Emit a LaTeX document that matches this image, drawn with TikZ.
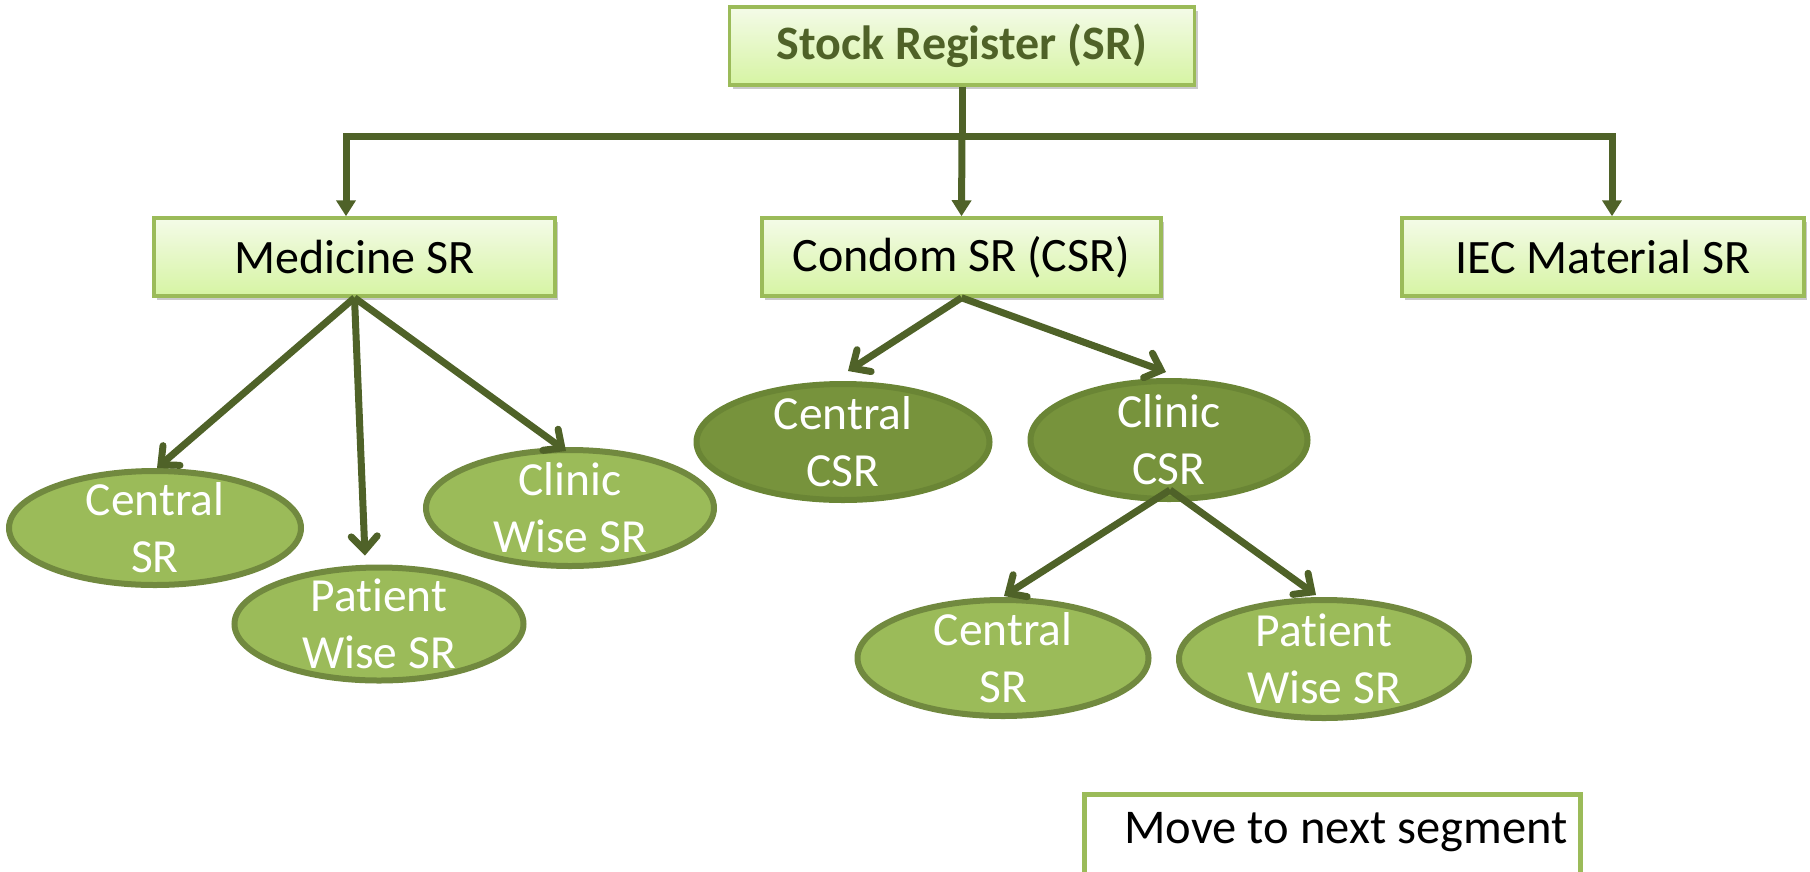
\documentclass[tikz,border=0pt]{standalone}
\usepackage{fontspec}
\setmainfont{Carlito}[Ligatures={NoCommon,NoRequired,NoContextual}]
\usetikzlibrary{arrows.meta,shapes.geometric,shadows,calc}
\definecolor{olive}{HTML}{4F6228}
\definecolor{boxborder}{HTML}{9BBB59}
\definecolor{boxtop}{HTML}{F4FBE8}
\definecolor{boxbot}{HTML}{D6F4A3}
\definecolor{ellfill}{HTML}{9BBB59}
\definecolor{elldraw}{HTML}{71893F}
\definecolor{darkfill}{HTML}{77933C}
\definecolor{darkdraw}{HTML}{6A8535}
\tikzset{
  srbox/.style={draw=boxborder, line width=3.5pt, top color=boxtop, bottom color=boxbot,
    drop shadow={shadow xshift=3pt, shadow yshift=-4pt, opacity=0.35, fill=black!60},
    inner sep=0pt, font=\fontsize{48}{56}\selectfont},
  ell/.style={ellipse, draw=elldraw, fill=ellfill, line width=6pt, inner sep=0pt},
  dell/.style={ellipse, draw=darkdraw, fill=darkfill, line width=6pt, inner sep=0pt},
  elltext/.style={text=white, align=center, font=\fontsize{47.5}{57}\selectfont, inner sep=0pt},
  conn/.style={draw=olive, line width=7pt},
  varr/.style={conn, -{Triangle[length=16pt,width=19pt]}},
  darr/.style={conn, -{Straight Barb[length=14pt,width=26pt,line width=7pt,line cap=round]}},
}
\begin{document}
\begin{tikzpicture}[x=1pt,y=-1pt]
\useasboundingbox (0,0) rectangle (1810,871);
\clip (0,0) rectangle (1810,871);
% boxes
\node[srbox, minimum width=465, minimum height=78, text=olive, font=\fontsize{48}{56}\selectfont\bfseries] (sr) at (962,46) {Stock Register (SR)};
\node[srbox, minimum width=401, minimum height=78] (med) at (354.5,257) {Medicine SR};
\node[srbox, minimum width=399, minimum height=78] (con) at (961.5,257) {Condom SR (CSR)};
\node[srbox, minimum width=402, minimum height=78] (iec) at (1603,257) {IEC Material SR};
% ellipses
\node[ell, minimum width=292, minimum height=114] (mcs) at (155,528) {};
\node[elltext] (mcst) at (mcs) {Central\\SR};
\node[ell, minimum width=289, minimum height=113] (mpw) at (379,624) {};
\node[elltext] (mpwt) at (mpw) {Patient\\Wise SR};
\node[ell, minimum width=288, minimum height=116] (mcw) at (570,508) {};
\node[elltext] (mcwt) at (mcw) {Clinic\\Wise SR};
\node[dell, minimum width=293, minimum height=116] (ccs) at (843,442) {};
\node[elltext] (ccst) at (ccs) {Central\\CSR};
\node[dell, minimum width=277, minimum height=118] (ccl) at (1169,440) {};
\node[elltext] (cclt) at (ccl) {Clinic\\CSR};
\node[ell, minimum width=291, minimum height=116] (bcs) at (1003,658) {};
\node[elltext] (bcst) at (bcs) {Central\\SR};
\node[ell, minimum width=290, minimum height=118] (bpw) at (1324,659) {};
\node[elltext] (bpwt) at (bpw) {Patient\\Wise SR};
% move box
\node[draw=boxborder, fill=white, line width=5pt, minimum width=496, minimum height=96, inner sep=0pt, anchor=north west] (mv) at (1082,792) {};
\node[font=\fontsize{48.5}{56}\selectfont, inner sep=0pt] (mvt) at (1346,832) {Move to next segment};
% top connectors
\coordinate (hl) at (346,136);
\coordinate (hr) at (1612,136);
\coordinate (hm) at (962,136);
\draw[conn] (sr.south) -- (hm);
\draw[conn, line cap=rect] (hl) -- (hr);
\draw[varr] (hl) -- (hl |- med.north);
\draw[varr] (hm) -- (con.north);
\draw[varr] (hr) -- (hr |- iec.north);
% medicine children
\draw[darr] (med.south) -- ([xshift=2pt]mcs.north);
\draw[darr] (med.south) -- ([xshift=-14pt,yshift=9pt]mpw.north);
\draw[darr] (med.south) -- ([xshift=-4pt,yshift=-4pt]mcw.north);
% condom children
\draw[darr] (con.south) -- ([xshift=5pt,yshift=10pt]ccs.north);
\draw[darr] (con.south) -- ([xshift=-3pt,yshift=6pt]ccl.north);
% clinic csr children
\draw[darr] ([xshift=1pt,yshift=12pt]ccl.south) -- ([xshift=1pt,yshift=1pt]bcs.north);
\draw[darr] ([xshift=1pt,yshift=12pt]ccl.south) -- ([xshift=-8pt,yshift=2pt]bpw.north);
\end{tikzpicture}
\end{document}
